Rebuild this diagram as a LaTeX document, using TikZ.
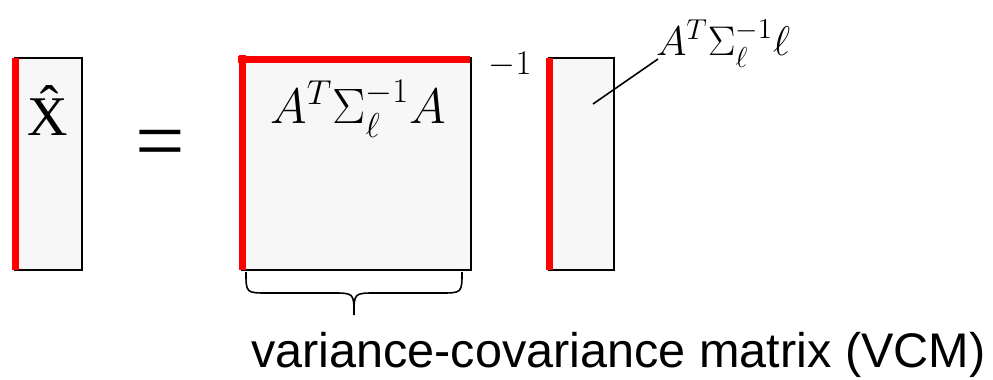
\documentclass[tikz,border=0pt]{standalone}
\usepackage{amsmath}
\usepackage{fontspec}
\setmainfont{Liberation Serif}
\setsansfont{Liberation Sans}
\usepackage{tikz}

\begin{document}
\begin{tikzpicture}[x=0.5pt, y=-0.5pt, line width=1pt]
        \tikzset{
            matbox/.style={draw=black, fill=black!3, line width=1pt},
            redbar/.style={draw=red, line width=3.5pt},
        }
        \useasboundingbox (0,0) rectangle (993,380);

        % 左侧未知向量
        \draw[matbox] (15,58) rectangle (82,270);
        \draw[redbar] (15.5,58) -- (15.5,270);
        \node[anchor=base, inner sep=0pt] (xhat) at (48,135) {\fontsize{28}{30}\selectfont \^{X}};

        % 等号
        \node[anchor=base, inner sep=0pt, font=\fontsize{44}{48}\selectfont] (eq) at (160,170) {=};

        % 法方程矩阵 (求逆)
        \draw[matbox] (242,58) rectangle (471,270);
        \draw[redbar] (242,55) -- (242,270);
        \draw[redbar] (238,59) -- (470,59);
        \node[anchor=base, inner sep=0pt] (ata) at (358,123) {\fontsize{25}{28}\selectfont $A^T\Sigma_\ell^{-1}A$};
        \node[anchor=base, inner sep=0pt] (inv) at (510,75) {\fontsize{17}{19}\selectfont $-1$};

        % 右侧向量及标注
        \draw[matbox] (549,58) rectangle (614,270);
        \draw[redbar] (549.5,58) -- (549.5,270);
        \coordinate (ptr) at (593,104);
        \node[anchor=base west, inner sep=0pt] (atl) at (655,55) {\fontsize{22}{24}\selectfont $A^T\Sigma_\ell^{-1}\ell$};
        \draw[line width=0.8pt] (ptr) -- ([shift={(3,4)}]atl.base west);

        % 大括号
        \draw[line width=0.8pt] (246,272) .. controls (246,293) .. (268,293) -- (332,293)
            .. controls (354,293) .. (354,315) .. controls (354,293) .. (376,293)
            -- (440,293) .. controls (462,293) .. (462,272);
        \node[anchor=base west, inner sep=0pt, font=\sffamily\fontsize{24.3}{28}\selectfont] (vcm) at (250,367) {variance-covariance matrix (VCM)};
    \end{tikzpicture}
\end{document}
